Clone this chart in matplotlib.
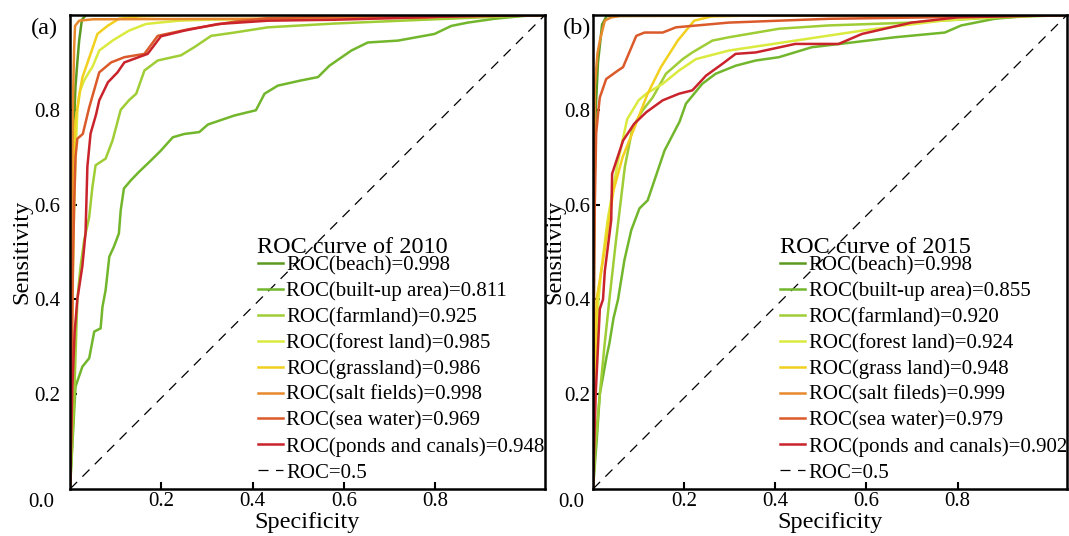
import matplotlib
matplotlib.use("Agg")
import matplotlib.pyplot as plt
from matplotlib.transforms import offset_copy

plt.rcParams['font.family'] = ['Liberation Serif', 'DejaVu Serif']

# ---- data ----
X_MAX = 1.04

classes = ['beach', 'built-up area', 'farmland', 'forest land', 'grassland',
           'salt fields', 'sea water', 'ponds and canals']
colors = ['#5b9a1f', '#72b62c', '#9fcd35', '#dbea3f', '#f1d01f',
          '#e8892d', '#db5a2a', '#c9232b']

# 2010
auc_2010 = [0.998, 0.811, 0.925, 0.985, 0.986, 0.998, 0.969, 0.948]
names_2010 = ['beach', 'built-up area', 'farmland', 'forest land', 'grassland',
              'salt fields', 'sea water', 'ponds and canals']

beach_2010_x = [0, 0.004, 0.008, 0.012, 0.016, 0.02, 0.026, 0.035, X_MAX]
beach_2010_y = [0, 0.5, 0.75, 0.85, 0.9, 0.946, 0.99, 1.0, 1.0]

built_2010_x = [0, 0.012, 0.027, 0.042, 0.053, 0.067, 0.071, 0.078, 0.086, 0.096,
                0.107, 0.111, 0.118, 0.133, 0.151, 0.177, 0.199, 0.225, 0.25, 0.283,
                0.302, 0.36, 0.407, 0.426, 0.455, 0.506, 0.543, 0.568, 0.616, 0.652,
                0.718, 0.798, 0.835, 0.871, 0.929, 0.992, X_MAX]
built_2010_y = [0, 0.216, 0.258, 0.276, 0.332, 0.339, 0.384, 0.42, 0.49, 0.511,
                0.539, 0.588, 0.634, 0.651, 0.669, 0.693, 0.714, 0.742, 0.749, 0.753,
                0.769, 0.788, 0.799, 0.834, 0.851, 0.862, 0.869, 0.893, 0.925, 0.942,
                0.946, 0.96, 0.977, 0.984, 0.992, 0.998, 1.0]

farm_2010_x = [0, 0.005, 0.01, 0.016, 0.023, 0.031, 0.042, 0.049, 0.056, 0.078,
               0.093, 0.111, 0.129, 0.145, 0.163, 0.192, 0.243, 0.272, 0.309, 0.36,
               0.433, 0.579, 0.725, 0.9, X_MAX]
farm_2010_y = [0, 0.1, 0.22, 0.4, 0.469, 0.525, 0.574, 0.637, 0.683, 0.697,
               0.735, 0.8, 0.82, 0.834, 0.883, 0.904, 0.915, 0.932, 0.956, 0.963,
               0.974, 0.982, 0.988, 0.995, 1.0]

forest_2010_x = [0, 0.004, 0.008, 0.012, 0.016, 0.022, 0.031, 0.042, 0.049, 0.064,
                 0.093, 0.129, 0.166, 0.195, 0.239, 0.3, 0.6, 0.9, X_MAX]
forest_2010_y = [0, 0.3, 0.55, 0.7, 0.8, 0.84, 0.862, 0.88, 0.89, 0.925,
                 0.946, 0.967, 0.981, 0.984, 0.988, 0.99, 0.994, 0.997, 1.0]

grass_2010_x = [0, 0.003, 0.006, 0.009, 0.012, 0.02, 0.027, 0.045, 0.06, 0.082,
                0.107, 0.15, 0.25, X_MAX]
grass_2010_y = [0, 0.35, 0.6, 0.72, 0.777, 0.83, 0.868, 0.918, 0.96, 0.977,
                0.992, 0.997, 1.0, 1.0]

salt_2010_x = [0, 0.003, 0.006, 0.009, 0.011, 0.02, 0.05, 0.4, 0.78, 0.85, X_MAX]
salt_2010_y = [0, 0.5, 0.8, 0.93, 0.977, 0.988, 0.991, 0.992, 0.994, 1.0, 1.0]

sea_2010_x = [0, 0.003, 0.006, 0.009, 0.012, 0.016, 0.028, 0.042, 0.064, 0.09,
              0.119, 0.163, 0.192, 0.26, 0.36, 0.43, 0.58, 0.8, X_MAX]
sea_2010_y = [0, 0.2, 0.45, 0.6, 0.7, 0.739, 0.749, 0.805, 0.879, 0.9,
              0.911, 0.918, 0.956, 0.97, 0.986, 0.993, 0.997, 0.999, 1.0]

ponds_2010_x = [0, 0.005, 0.01, 0.016, 0.027, 0.034, 0.038, 0.045, 0.057, 0.064,
                0.083, 0.104, 0.119, 0.17, 0.199, 0.25, 0.324, 0.433, 0.58, 0.8, X_MAX]
ponds_2010_y = [0, 0.21, 0.33, 0.4, 0.47, 0.54, 0.68, 0.75, 0.79, 0.82,
                0.858, 0.879, 0.9, 0.918, 0.955, 0.967, 0.981, 0.988, 0.99, 0.996, 1.0]

# 2015
auc_2015 = [0.998, 0.855, 0.920, 0.924, 0.948, 0.999, 0.979, 0.902]
names_2015 = ['beach', 'built-up area', 'farmland', 'forest land', 'grass land',
              'salt fileds', 'sea water', 'ponds and canals']

beach_2015_x = [0, 0.003, 0.006, 0.011, 0.02, 0.03, X_MAX]
beach_2015_y = [0, 0.6, 0.8, 0.9, 0.98, 0.998, 1.0]

built_2015_x = [0, 0.008, 0.015, 0.03, 0.036, 0.045, 0.055, 0.069, 0.084, 0.102,
                0.12, 0.157, 0.19, 0.204, 0.24, 0.269, 0.313, 0.357, 0.408, 0.48,
                0.568, 0.662, 0.772, 0.808, 0.881, 0.95, X_MAX]
built_2015_y = [0, 0.1, 0.2, 0.28, 0.307, 0.36, 0.4, 0.483, 0.546, 0.592,
                0.609, 0.714, 0.775, 0.813, 0.855, 0.876, 0.893, 0.904, 0.911, 0.932,
                0.942, 0.953, 0.963, 0.978, 0.992, 0.998, 1.0]

farm_2015_x = [0, 0.006, 0.015, 0.025, 0.036, 0.05, 0.06, 0.07, 0.087, 0.109,
               0.131, 0.16, 0.197, 0.218, 0.262, 0.298, 0.408, 0.517, 0.699, 0.85, X_MAX]
farm_2015_y = [0, 0.1, 0.2, 0.3, 0.4, 0.52, 0.6, 0.68, 0.763, 0.799,
               0.826, 0.876, 0.907, 0.921, 0.946, 0.953, 0.971, 0.978, 0.984, 0.993, 1.0]

forest_2015_x = [0, 0.004, 0.012, 0.018, 0.032, 0.054, 0.075, 0.1, 0.117, 0.153,
                 0.189, 0.226, 0.298, 0.444, 0.59, 0.764, 0.9, X_MAX]
forest_2015_y = [0, 0.2, 0.4, 0.46, 0.567, 0.687, 0.78, 0.82, 0.834, 0.855,
                 0.883, 0.907, 0.925, 0.946, 0.967, 0.988, 0.997, 1.0]

grass_2015_x = [0, 0.003, 0.008, 0.025, 0.045, 0.065, 0.09, 0.12, 0.149, 0.186,
                0.222, 0.26, 0.4, X_MAX]
grass_2015_y = [0, 0.2, 0.4, 0.5, 0.63, 0.7, 0.76, 0.834, 0.89, 0.946,
                0.988, 0.997, 1.0, 1.0]

salt_2015_x = [0, 0.002, 0.004, 0.01, 0.016, 0.026, 0.04, 0.06, X_MAX]
salt_2015_y = [0, 0.5, 0.85, 0.92, 0.95, 0.988, 0.995, 0.998, 1.0]

sea_2015_x = [0, 0.002, 0.004, 0.007, 0.012, 0.015, 0.029, 0.055, 0.066, 0.095,
              0.113, 0.153, 0.182, 0.298, 0.517, 0.735, 0.9, X_MAX]
sea_2015_y = [0, 0.4, 0.6, 0.75, 0.8, 0.826, 0.865, 0.883, 0.89, 0.956,
              0.963, 0.963, 0.974, 0.984, 0.992, 0.995, 0.998, 1.0]

ponds_2015_x = [0, 0.006, 0.015, 0.022, 0.026, 0.04, 0.042, 0.066, 0.09, 0.117,
                0.153, 0.189, 0.218, 0.248, 0.284, 0.313, 0.357, 0.444, 0.539, 0.59,
                0.699, 0.8, X_MAX]
ponds_2015_y = [0, 0.2, 0.38, 0.4, 0.46, 0.567, 0.665, 0.735, 0.77, 0.795,
                0.82, 0.834, 0.841, 0.872, 0.897, 0.918, 0.921, 0.939, 0.939, 0.96,
                0.984, 0.995, 1.0]

curves_2010 = [(beach_2010_x, beach_2010_y), (built_2010_x, built_2010_y),
               (farm_2010_x, farm_2010_y), (forest_2010_x, forest_2010_y),
               (grass_2010_x, grass_2010_y), (salt_2010_x, salt_2010_y),
               (sea_2010_x, sea_2010_y), (ponds_2010_x, ponds_2010_y)]
curves_2015 = [(beach_2015_x, beach_2015_y), (built_2015_x, built_2015_y),
               (farm_2015_x, farm_2015_y), (forest_2015_x, forest_2015_y),
               (grass_2015_x, grass_2015_y), (salt_2015_x, salt_2015_y),
               (sea_2015_x, sea_2015_y), (ponds_2015_x, ponds_2015_y)]

ticks = [0.2, 0.4, 0.6, 0.8]
tick_labels = ['0.2', '0.4', '0.6', '0.8']


def draw_panel(ax, curves, names, aucs, year, letter, ypad, lpad):
    for (x, y), name, auc, c in zip(curves, names, aucs, colors):
        ax.plot(x, y, color=c, lw=1.8, label=f'ROC({name})={auc:.3f}')
    ax.plot([0, X_MAX], [0, 1], color='black', lw=0.9, ls=(0, (8, 6)), label='ROC=0.5')

    ax.set_xlim(0, X_MAX)
    ax.set_ylim(0, 1.0)
    ax.set_xticks(ticks)
    ax.set_xticklabels(tick_labels)
    ax.set_yticks(ticks)
    ax.set_yticklabels(tick_labels)
    ax.tick_params(direction='in', length=5, width=1.5, labelsize=15)
    ax.tick_params(axis='y', pad=ypad)
    ax.tick_params(axis='x', pad=2)
    for s in ax.spines.values():
        s.set_linewidth(1.8)

    ax.set_xlabel('Specificity', fontsize=17.5, labelpad=1)
    ax.set_ylabel('Sensitivity', fontsize=17.5, labelpad=lpad)

    # corner label
    tr = offset_copy(ax.transAxes, fig=ax.figure, x=-(ypad + 4), y=-10, units='points')
    ax.text(0, 0, '0.0', transform=tr, ha='right', va='center', fontsize=15)

    ax.text(-0.026 if letter == 'a' else -0.003, 0.972, f'({letter})',
            transform=ax.transAxes, ha='right', va='center', fontsize=17.5)

    # legend title placed as its own text, closer to the entries
    ax.text(0.394, 0.51, f'ROC curve of {year}', transform=ax.transAxes,
            ha='left', va='center', fontsize=17.5)
    leg = ax.legend(loc='lower left',
                    bbox_to_anchor=(0.378, -0.004), frameon=False, fontsize=15,
                    handlelength=1.2, handletextpad=0.15,
                    labelspacing=0.3, borderaxespad=0)
    return leg


fig = plt.figure(figsize=(10.69, 5.36), dpi=100)
ax1 = fig.add_axes([0.0655, 0.0877, 0.4443, 0.8843])
ax2 = fig.add_axes([0.5547, 0.0877, 0.4434, 0.8843])

draw_panel(ax1, curves_2010, names_2010, auc_2010, 2010, 'a', ypad=7, lpad=1)
draw_panel(ax2, curves_2015, names_2015, auc_2015, 2015, 'b', ypad=2, lpad=-1)

fig.savefig('out.png', dpi=100)
